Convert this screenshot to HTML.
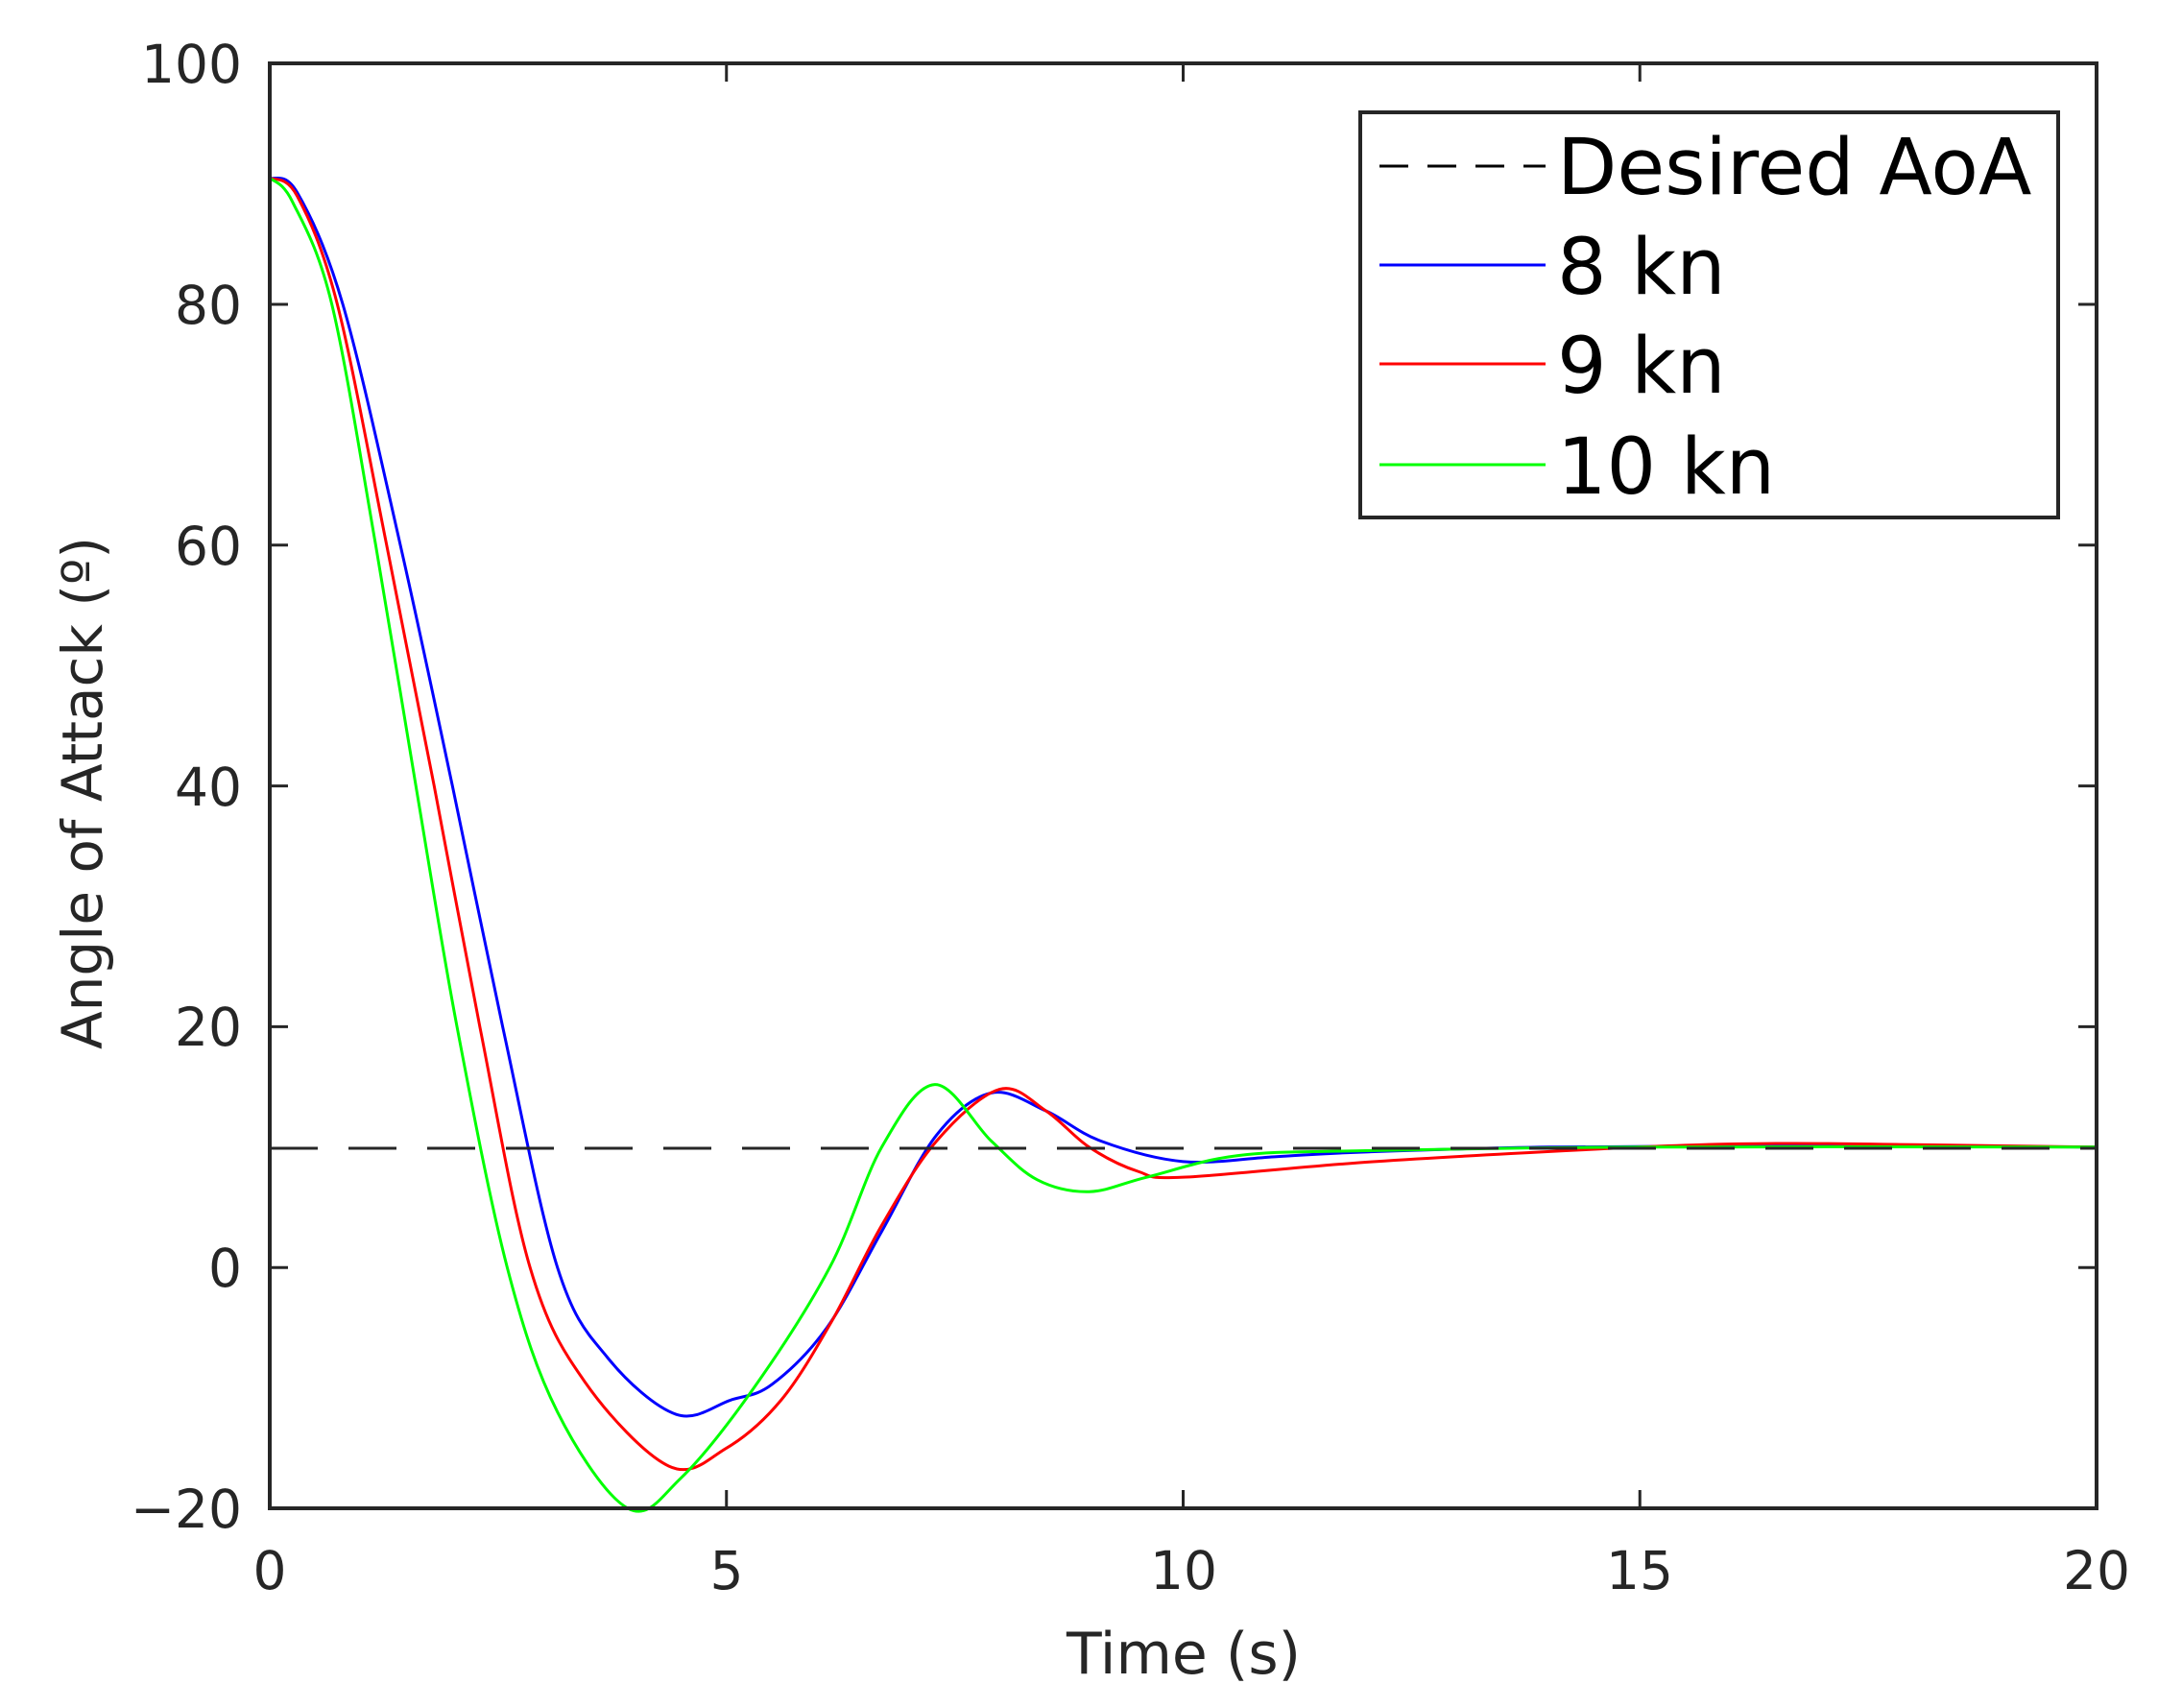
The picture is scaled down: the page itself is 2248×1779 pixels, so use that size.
<!DOCTYPE html>
<html><head><meta charset="utf-8"><style>
html,body{margin:0;padding:0;background:#fff;}
svg{display:block;}
text{font-family:"DejaVu Sans","Liberation Sans",sans-serif;fill:#262626;}
</style></head><body>
<svg id="s" width="2248" height="1779" xmlns="http://www.w3.org/2000/svg">
<rect width="2248" height="1779" fill="#fff"/>
<g id="curves"></g>
<line x1="281" y1="1196" x2="2184" y2="1196" stroke="#262626" stroke-width="3" stroke-dasharray="50,32"/>
<rect x="281" y="66" width="1903" height="1505" fill="none" stroke="#262626" stroke-width="4"/>
<g stroke="#262626" stroke-width="3" id="ticks"></g>
<g font-size="55" text-anchor="end">
<text x="252" y="86">100</text><text x="252" y="337">80</text><text x="252" y="588">60</text>
<text x="252" y="839">40</text><text x="252" y="1089">20</text><text x="252" y="1340">0</text>
<text x="252" y="1591">−20</text>
</g>
<g font-size="55" text-anchor="middle">
<text x="281" y="1655">0</text><text x="757" y="1655">5</text><text x="1233" y="1655">10</text>
<text x="1708" y="1655">15</text><text x="2184" y="1655">20</text>
</g>
<text x="1233" y="1743" font-size="60" text-anchor="middle">Time (s)</text>
<text transform="translate(106,826) rotate(-90)" font-size="58" text-anchor="middle">Angle of Attack (º)</text>
<rect x="1417" y="117" width="727" height="422" fill="#fff" stroke="#262626" stroke-width="4"/>
<line x1="1437" y1="173" x2="1610" y2="173" stroke="#000" stroke-width="3" stroke-dasharray="30,20"/>
<line x1="1437" y1="276" x2="1610" y2="276" stroke="#00f" stroke-width="3"/>
<line x1="1437" y1="379" x2="1610" y2="379" stroke="#f00" stroke-width="3"/>
<line x1="1437" y1="484" x2="1610" y2="484" stroke="#0f0" stroke-width="3"/>
<g font-size="81">
<text x="1622" y="202" style="fill:#000">Desired AoA</text>
<text x="1622" y="306" style="fill:#000">8 kn</text>
<text x="1622" y="409" style="fill:#000">9 kn</text>
<text x="1622" y="514" style="fill:#000">10 kn</text>
</g>
</svg>
<script>
const X=t=>281+t*95.15, Y=v=>1571-(v+20)*12.54;
function path(p){const q=p.map(([t,v])=>[X(t),Y(v)]);let d="M"+q[0][0]+","+q[0][1];
for(let i=0;i<q.length-1;i++){const p0=q[Math.max(0,i-1)],p1=q[i],p2=q[i+1],p3=q[Math.min(q.length-1,i+2)];
const c1=[p1[0]+(p2[0]-p0[0])/6,p1[1]+(p2[1]-p0[1])/6],c2=[p2[0]-(p3[0]-p1[0])/6,p2[1]-(p3[1]-p1[1])/6];
d+=`C${c1[0]},${c1[1]} ${c2[0]},${c2[1]} ${p2[0]},${p2[1]}`;}return d;}
const B=[[0,90.5],[0.3,89.3],[0.8,80],[1.43,60],[2.0,40],[2.55,20],[3.15,0],[3.7,-7.5],[4.45,-12.2],[5.05,-11],[5.5,-9.7],[6.1,-5],[6.7,3],[7.3,11],[7.9,14.5],[8.5,13],[9.1,10.5],[10,8.8],[11,9.2],[12,9.6],[14,10],[17,10.1],[20,10]];
const R=[[0,90.5],[0.3,89],[0.74,80],[1.28,60],[1.8,40],[2.3,20],[2.85,0],[3.45,-9.5],[4.37,-16.5],[5.0,-15],[5.6,-11],[6.15,-4.5],[6.7,3.5],[7.3,10.5],[7.99,14.8],[8.5,13],[8.97,10],[9.5,8],[10,7.5],[12.1,8.8],[15,10],[16.5,10.3],[18,10.2],[20,10]];
const G=[[0,90.5],[0.25,88.5],[0.68,80],[1.16,60],[1.6,40],[2.05,20],[2.6,0],[3.15,-12],[3.92,-20],[4.5,-17.5],[5.3,-10],[6.13,0],[6.7,10],[7.28,15.2],[7.9,10.5],[8.4,7.3],[8.97,6.3],[9.6,7.5],[10.6,9.3],[12,9.7],[15,10],[20,10]];
const g=document.getElementById("curves");
[[B,"#00f"],[R,"#f00"],[G,"#0f0"]].forEach(([p,c])=>{const e=document.createElementNS("http://www.w3.org/2000/svg","path");e.setAttribute("d",path(p));e.setAttribute("fill","none");e.setAttribute("stroke",c);e.setAttribute("stroke-width","3");g.appendChild(e);});
const tk=document.getElementById("ticks");let s="";
for(let v=-20;v<=100;v+=20){const y=Y(v);s+=`<line x1="281" y1="${y}" x2="300" y2="${y}"/><line x1="2165" y1="${y}" x2="2184" y2="${y}"/>`;}
for(let t=0;t<=20;t+=5){const x=X(t);s+=`<line x1="${x}" y1="1571" x2="${x}" y2="1552"/><line x1="${x}" y1="66" x2="${x}" y2="85"/>`;}
tk.innerHTML=s;
</script>
</body></html>
